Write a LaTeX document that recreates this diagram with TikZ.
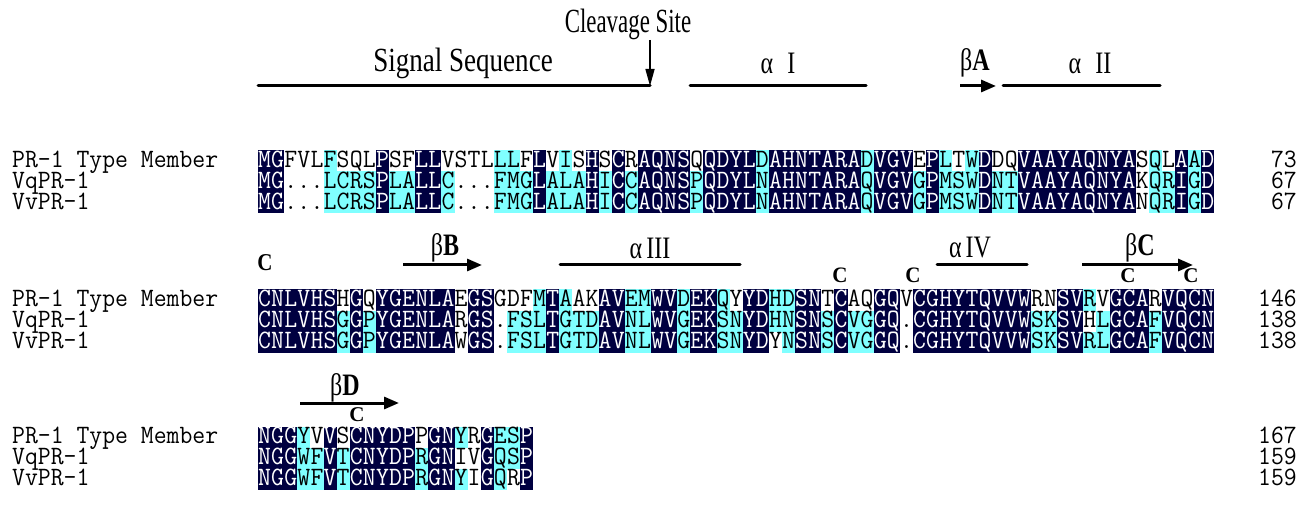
\documentclass[tikz,border=0pt]{standalone}
\usepackage{fontspec}
\setmainfont{Liberation Serif}
\usepackage{tikz}
\usepackage{graphicx}
\usetikzlibrary{arrows.meta}

\definecolor{seqnavy}{HTML}{000040}
\definecolor{seqcyan}{HTML}{80FFFF}
\newcommand\seqfont{\ttfamily\fontsize{25}{25}\selectfont}
\newcommand\stretched[3]{\scalebox{#1}[#2]{#3}}
\def\cellw{13.1}
\def\cellh{21}

% \seqrow{name}{y}{residues}{shading: n navy, c cyan, w white}
\newcommand\seqrow[4]{%
  \def\rowname{#1}\def\rowy{#2}\def\colno{0}%
  \seqwalk#3\relax#4\relax}
\def\seqwalk#1#2\relax#3#4\relax{%
  \pgfmathsetmacro\cx{258+\cellw*\colno}%
  \pgfmathtruncatemacro\colno{\colno+1}%
  \if#3n\fill[seqnavy] (\cx,\rowy-\cellh/2) rectangle ++(\cellw,\cellh);\fi
  \if#3c\fill[seqcyan] (\cx,\rowy-\cellh/2) rectangle ++(\cellw,\cellh);\fi
  \if#3n\node[residue,text=white] (\rowname-\colno) at (\cx+\cellw/2,\rowy) {\stretched{1}{1.06}{#1}};
  \else\node[residue] (\rowname-\colno) at (\cx+\cellw/2,\rowy) {\stretched{1}{1.06}{#1}};\fi
  \ifx\relax#2\relax\else\seqwalk#2\relax#4\relax\fi}

\begin{document}
\begin{tikzpicture}[x=1pt,y=-1pt]
  \tikzstyle{every node}+=[inner sep=0pt]
  \tikzset{
    residue/.style={font=\seqfont,text height=16.5pt,text depth=4pt},
    seqname/.style={residue,anchor=west},
    seqnum/.style={residue,anchor=east},
    head/.style={font=\fontsize{26}{26}\selectfont},
    sslabel/.style={font=\fontsize{24}{24}\selectfont},
    cys/.style={font=\bfseries\fontsize{21}{21}\selectfont,text height=14pt,text depth=0pt},
    helixbar/.style={line width=3pt,line cap=round},
    strand/.style={line width=3pt,-{Triangle[length=15pt,width=12pt]}}
  }
  \useasboundingbox (0,0) rectangle (1306,529);

  % block 1
  \seqrow{a1}{161}{MGFVLFSQLPSFLLVSTLLLFLVISHSCRAQNSQQDYLDAHNTARADVGVEPLTWDDQVAAYAQNYASQLAAD}
    {nnwwwcwwwnwwnnwwwwccwnwcwnwnwnnnnwnnnncnnnnnnncnnnwncwcnwwnnnnnnnnnwcwncn}
  \seqrow{a2}{182}{MG...LCRSPLALLC...FMGLALAHICCAQNSPQDYLNAHNTARAQVGVGPMSWDNTVAAYAQNYAKQRIGD}
    {nnwwwccccnccnncwwwcccncccncncnnnncnnnncnnnnnnncnnncncccnccnnnnnnnnnwccncn}
  \seqrow{a3}{203}{MG...LCRSPLALLC...FMGLALAHICCAQNSPQDYLNAHNTARAQVGVGPMSWDNTVAAYAQNYANQRIGD}
    {nnwwwccccnccnncwwwcccncccncncnnnncnnnncnnnnnnncnnncncccnccnnnnnnnnnwccncn}
  % block 2
  \seqrow{b1}{300}{CNLVHSHGQYGENLAEGSGDFMTAAKAVEMWVDEKQYYDHDSNTCAQGQVCGHYTQVVWRNSVRVGCARVQCN}
    {nnnnnnwnwnnnnnnwnnwwwcncwwnnccnncnncwnnccnnwnwwnnwnnnnnnnnnwwnncwnnnwnnnn}
  \seqrow{b2}{321}{CNLVHSGGPYGENLARGS.FSLTGTDAVNLWVGEKSNYDHNSNSCVGGQ.CGHYTQVVWSKSVHLGCAFVQCN}
    {nnnnnncncnnnnnnwnnwcccncccnnccnncnnccnnccnncnccnnwnnnnnnnnnccnnwcnnncnnnn}
  \seqrow{b3}{342}{CNLVHSGGPYGENLAWGS.FSLTGTDAVNLWVGEKSNYDYNSNSCVGGQ.CGHYTQVVWSKSVRLGCAFVQCN}
    {nnnnnncncnnnnnnwnnwcccncccnnccnncnnccnnwcnncnccnnwnnnnnnnnnccnnccnnncnnnn}
  % block 3
  \seqrow{c1}{437}{NGGYVVSCNYDPPGNYRGESP}{nnncwnwnnnnnwnncwnccn}
  \seqrow{c2}{458}{NGGWFVTCNYDPRGNIVGQSP}{nnnccncnnnnncnnwwnccn}
  \seqrow{c3}{479}{NGGWFVTCNYDPRGNYIGQRP}{nnnccncnnnnncnncwncwn}

  % names and counts
  \node[seqname] (na1) at (12,161) {\stretched{1}{1.06}{PR-1 Type Member}};
  \node[seqname] (na2) at (12,182) {\stretched{1}{1.06}{VqPR-1}};
  \node[seqname] (na3) at (12,203) {\stretched{1}{1.06}{VvPR-1}};
  \node[seqname] (nb1) at (12,300) {\stretched{1}{1.06}{PR-1 Type Member}};
  \node[seqname] (nb2) at (12,321) {\stretched{1}{1.06}{VqPR-1}};
  \node[seqname] (nb3) at (12,342) {\stretched{1}{1.06}{VvPR-1}};
  \node[seqname] (nc1) at (12,437) {\stretched{1}{1.06}{PR-1 Type Member}};
  \node[seqname] (nc2) at (12,458) {\stretched{1}{1.06}{VqPR-1}};
  \node[seqname] (nc3) at (12,479) {\stretched{1}{1.06}{VvPR-1}};
  \node[seqnum] (ka1) at (1297,161) {\stretched{1}{1.06}{73}};
  \node[seqnum] (ka2) at (1297,182) {\stretched{1}{1.06}{67}};
  \node[seqnum] (ka3) at (1297,203) {\stretched{1}{1.06}{67}};
  \node[seqnum] (kb1) at (1297,300) {\stretched{1}{1.06}{146}};
  \node[seqnum] (kb2) at (1297,321) {\stretched{1}{1.06}{138}};
  \node[seqnum] (kb3) at (1297,342) {\stretched{1}{1.06}{138}};
  \node[seqnum] (kc1) at (1297,437) {\stretched{1}{1.06}{167}};
  \node[seqnum] (kc2) at (1297,458) {\stretched{1}{1.06}{159}};
  \node[seqnum] (kc3) at (1297,479) {\stretched{1}{1.06}{159}};

  % signal peptide and cleavage
  \node[head] (cleave) at (628,24) {\stretched{0.88}{1.3}{Cleavage Site}};
  \node[head] (signal) at (463,63) {\stretched{1.04}{1.3}{Signal Sequence}};
  \coordinate (sig-a) at (258,86);
  \coordinate (sig-b) at (650,86);
  \coordinate (cut) at (650,40);
  \draw[helixbar] (sig-a) -- (sig-b);
  \draw[line width=1.5pt,-{Triangle[length=17pt,width=9pt]}] (cut) -- (sig-b);

  % secondary structure, block 1
  \node[sslabel] (h1) at (778,63) {\stretched{1}{1.3}{α\,\, I}};
  \coordinate (h1-a) at (690,86);
  \coordinate (h1-b) at (866,86);
  \draw[helixbar] (h1-a) -- (h1-b);
  \node[sslabel] (sA) at (975,63) {\stretched{1}{1.3}{β\textbf{A}}};
  \coordinate (sA-a) at (960,86);
  \coordinate (sA-b) at (996,86);
  \draw[strand] (sA-a) -- (sA-b);
  \node[sslabel] (h2) at (1090,63) {\stretched{1}{1.3}{α\,\, II}};
  \coordinate (h2-a) at (1003,86);
  \coordinate (h2-b) at (1160,86);
  \draw[helixbar] (h2-a) -- (h2-b);

  % secondary structure, block 2
  \node[sslabel] (sB) at (445,248) {\stretched{1}{1.3}{β\textbf{B}}};
  \coordinate (sB-a) at (403,265);
  \coordinate (sB-b) at (482,265);
  \draw[strand] (sB-a) -- (sB-b);
  \node[sslabel] (h3) at (650,248) {\stretched{1}{1.3}{α\,III}};
  \coordinate (h3-a) at (560,265);
  \coordinate (h3-b) at (740,265);
  \draw[helixbar] (h3-a) -- (h3-b);
  \node[sslabel] (h4) at (970,248) {\stretched{1}{1.3}{α\,IV}};
  \coordinate (h4-a) at (937,265);
  \coordinate (h4-b) at (1027,265);
  \draw[helixbar] (h4-a) -- (h4-b);
  \node[sslabel] (sC) at (1140,248) {\stretched{1}{1.3}{β\textbf{C}}};
  \coordinate (sC-a) at (1082,265);
  \coordinate (sC-b) at (1193,265);
  \draw[strand] (sC-a) -- (sC-b);
  \node[cys] (cy1) at (265,264) {\stretched{1}{1.15}{C}};
  \node[cys] (cy2) at (840,276) {\stretched{1}{1.05}{C}};
  \node[cys] (cy3) at (913,276) {\stretched{1}{1.05}{C}};
  \node[cys] (cy4) at (1128,276) {C};
  \node[cys] (cy5) at (1191,276) {C};

  % secondary structure, block 3
  \node[sslabel] (sD) at (345,388) {\stretched{1}{1.3}{β\textbf{D}}};
  \coordinate (sD-a) at (300,403);
  \coordinate (sD-b) at (399,403);
  \draw[strand] (sD-a) -- (sD-b);
  \node[cys] (cy6) at (357,414) {C};
\end{tikzpicture}
\end{document}
